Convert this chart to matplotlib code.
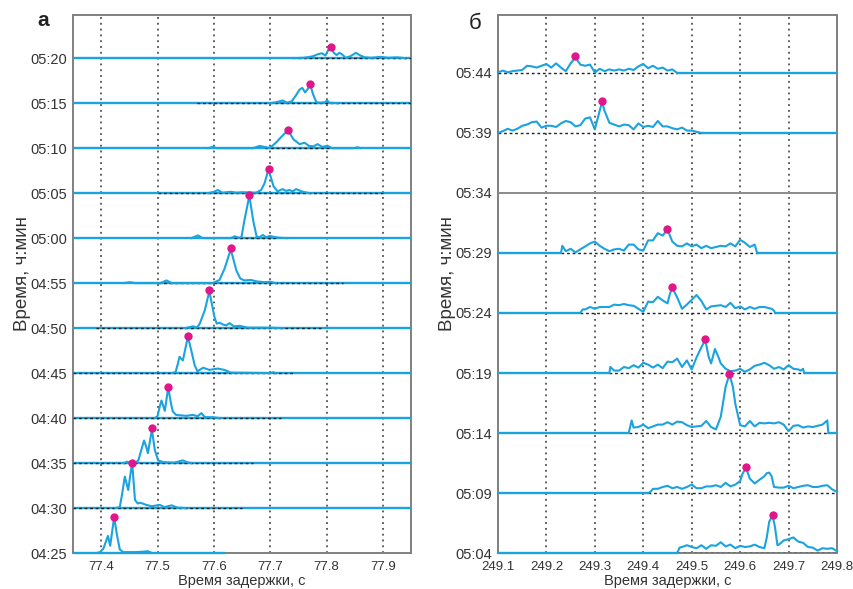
import matplotlib
matplotlib.use("Agg")
import matplotlib.pyplot as plt

plt.rcParams['font.family'] = ['Liberation Sans', 'DejaVu Sans']

# ------------------------------
# Panel a: delay 77.35-77.95 s, traces every 5 min (04:25 ... 05:20)
# ------------------------------

a_labels = ["04:25", "04:30", "04:35", "04:40", "04:45", "04:50",
            "04:55", "05:00", "05:05", "05:10", "05:15", "05:20"]
a_offsets = [0, 5, 10, 15, 20, 25, 30, 35, 40, 45, 50, 55]   # minutes after 04:25

a_0425_x = [77.392, 77.398, 77.404, 77.408, 77.412, 77.416, 77.423, 77.428, 77.433, 77.439, 77.46, 77.475, 77.483, 77.49]
a_0425_y = [0, 0.1, 0.5, 1.2, 1.9, 0.8, 4.0, 2.0, 0.4, 0.1, 0.1, 0.15, 0.2, 0]
a_0430_x = [77.425, 77.433, 77.437, 77.442, 77.448, 77.452, 77.455, 77.46, 77.465, 77.469, 77.48, 77.49, 77.504, 77.512, 77.525, 77.535, 77.55]
a_0430_y = [0, 0.1, 1.5, 3.5, 2.0, 3.8, 5.0, 0.9, 0.5, 0.6, 0.35, 0.2, 0.35, 0.1, 0.3, 0.05, 0]
a_0435_x = [77.44, 77.446, 77.452, 77.462, 77.466, 77.471, 77.476, 77.48, 77.483, 77.487, 77.49, 77.495, 77.501, 77.51, 77.53, 77.545, 77.552, 77.56]
a_0435_y = [0, 0.15, 0, 0.1, 0.3, 1.4, 2.5, 1.8, 1.1, 2.6, 3.75, 1.5, 0.3, 0.1, 0.05, 0.3, 0.1, 0]
a_0440_x = [77.495, 77.50, 77.504, 77.507, 77.513, 77.519, 77.524, 77.527, 77.533, 77.542, 77.551, 77.563, 77.571, 77.578, 77.584, 77.598, 77.61]
a_0440_y = [0, 0.2, 1.3, 1.95, 0.8, 3.4, 1.6, 0.75, 0.35, 0.3, 0.25, 0.35, 0.2, 0.55, 0.1, 0.1, 0]
a_0445_x = [77.525, 77.532, 77.536, 77.539, 77.545, 77.549, 77.554, 77.56, 77.566, 77.571, 77.581, 77.592, 77.607, 77.619, 77.63, 77.70, 77.705, 77.71]
a_0445_y = [0, 0.1, 1.0, 1.8, 1.4, 2.6, 4.05, 2.5, 0.85, 0.2, 0.6, 0.35, 0.5, 0.35, 0.05, 0, 0.1, 0]
a_0450_x = [77.55, 77.563, 77.57, 77.575, 77.584, 77.592, 77.601, 77.605, 77.61, 77.616, 77.622, 77.628, 77.635, 77.646, 77.66, 77.70, 77.72]
a_0450_y = [0, 0.2, 0.05, 0.5, 2.0, 4.1, 1.25, 0.5, 0.6, 0.4, 0.3, 0.55, 0.2, 0.25, 0.05, 0.05, 0]
a_0455_x = [77.44, 77.451, 77.46, 77.505, 77.516, 77.525, 77.598, 77.61, 77.619, 77.63, 77.64, 77.647, 77.654, 77.666, 77.675, 77.69, 77.70, 77.71]
a_0455_y = [0, 0.1, 0, 0, 0.3, 0, 0, 0.35, 1.6, 3.75, 1.4, 0.5, 0.3, 0.35, 0.2, 0.1, 0.15, 0]
a_0500_x = [77.56, 77.572, 77.58, 77.63, 77.637, 77.644, 77.649, 77.654, 77.663, 77.67, 77.676, 77.681, 77.687, 77.693, 77.699, 77.706, 77.715, 77.73]
a_0500_y = [0, 0.3, 0, 0, 0.2, 0.05, 0.1, 1.9, 4.7, 1.9, 0.15, 0.1, 0.35, 0.1, 0.25, 0.15, 0.05, 0]
a_0505_x = [77.59, 77.60, 77.607, 77.615, 77.63, 77.64, 77.65, 77.675, 77.684, 77.69, 77.697, 77.706, 77.713, 77.722, 77.728, 77.734, 77.74, 77.746, 77.758, 77.77]
a_0505_y = [0, 0.15, 0.35, 0.05, 0.15, 0.05, 0.1, 0.05, 0.35, 1.1, 2.65, 0.75, 0.2, 0.45, 0.25, 0.35, 0.2, 0.45, 0.15, 0]
a_0510_x = [77.59, 77.598, 77.605, 77.67, 77.681, 77.693, 77.699, 77.71, 77.722, 77.732, 77.741, 77.752, 77.761, 77.769, 77.777, 77.784, 77.792, 77.802, 77.81, 77.85, 77.855, 77.86]
a_0510_y = [0, 0.15, 0, 0, 0.25, 0.1, 0, 0.6, 1.4, 2.0, 1.0, 0.45, 0.6, 0.25, 0.2, 0.45, 0.15, 0.25, 0, 0, 0.1, 0]
a_0515_x = [77.70, 77.71, 77.722, 77.73, 77.738, 77.745, 77.752, 77.757, 77.762, 77.767, 77.771, 77.776, 77.782, 77.79, 77.797, 77.801, 77.805, 77.82]
a_0515_y = [0, 0.1, 0.3, 0.05, 0.2, 0.8, 1.5, 1.7, 1.2, 1.6, 2.1, 1.0, 0.1, 0.05, 0.1, 0.3, 0.05, 0]
a_0520_x = [77.74, 77.76, 77.775, 77.785, 77.792, 77.798, 77.803, 77.808, 77.813, 77.818, 77.823, 77.828, 77.834, 77.842, 77.852, 77.86, 77.868, 77.88, 77.895, 77.91, 77.925, 77.94]
a_0520_y = [0, 0.05, 0.2, 0.45, 0.55, 0.3, 0.9, 1.15, 0.6, 0.35, 0.6, 0.4, 0.05, 0.2, 0.6, 0.3, 0.1, 0.05, 0.15, 0.05, 0.1, 0]

a_peak_x = [77.423, 77.455, 77.49, 77.519, 77.554, 77.592, 77.63, 77.663, 77.697, 77.732, 77.771, 77.808]
a_peak_y = [4.05, 5.0, 3.85, 3.45, 4.15, 4.2, 3.85, 4.8, 2.7, 2.05, 2.15, 1.2]
a_dot_start = [77.35, 77.35, 77.35, 77.35, 77.35, 77.39, 77.50, 77.635, 77.50, 77.69, 77.57, 77.75]
a_dot_end = [77.35, 77.65, 77.67, 77.72, 77.74, 77.79, 77.83, 77.71, 77.90, 77.805, 77.95, 77.95]
a_line_end = [77.62, 77.95, 77.95, 77.95, 77.95, 77.95, 77.95, 77.95, 77.95, 77.95, 77.95, 77.95]
a_ticks = [77.4, 77.5, 77.6, 77.7, 77.8, 77.9]

# ------------------------------
# Panel b: delay 249.1-249.8 s, traces every 5 min (05:04 ... 05:44)
# ------------------------------

b_labels = ["05:04", "05:09", "05:14", "05:19", "05:24", "05:29", "05:34", "05:39", "05:44"]
b_offsets = [0, 5, 10, 15, 20, 25, 30, 35, 40]   # minutes after 05:04
b_empty = 30   # 05:34 has no record

b_0504_x = [249.47, 249.475, 249.48, 249.49, 249.50, 249.51, 249.52, 249.53, 249.54, 249.55, 249.56, 249.57, 249.58, 249.59, 249.60, 249.61, 249.62, 249.63, 249.64, 249.65,
            249.655, 249.66, 249.667, 249.672, 249.677, 249.68, 249.69, 249.70, 249.71, 249.72, 249.73, 249.74, 249.75, 249.76, 249.77, 249.78, 249.79, 249.80]
b_0504_y = [0, 0.45, 0.5, 0.65, 0.5, 0.4, 0.65, 0.35, 0.65, 0.6, 0.9, 0.55, 0.7, 0.4, 0.6, 0.5, 0.55, 0.7, 0.5, 0.4,
            1.3, 2.6, 3.15, 2.15, 0.65, 0.7, 1.05, 1.15, 1.3, 0.95, 0.85, 0.5, 0.45, 0.2, 0.4, 0.35, 0.4, 0.15]
b_0509_x = [249.41, 249.415, 249.42, 249.43, 249.44, 249.45, 249.46, 249.47, 249.48, 249.49, 249.50, 249.51, 249.52, 249.53, 249.54, 249.55, 249.56, 249.57, 249.58, 249.59, 249.60,
            249.605, 249.612, 249.62, 249.63, 249.64, 249.65, 249.655, 249.66, 249.665, 249.67, 249.68, 249.69, 249.70, 249.71, 249.72, 249.73, 249.74, 249.75, 249.76, 249.77, 249.78, 249.79, 249.80]
b_0509_y = [0, 0.1, 0.35, 0.35, 0.5, 0.6, 0.4, 0.5, 0.35, 0.5, 0.7, 0.4, 0.4, 0.55, 0.55, 0.65, 0.5, 0.85, 0.55, 0.7, 1.0,
            1.6, 2.1, 1.2, 0.8, 1.1, 1.4, 1.65, 1.7, 1.4, 0.5, 0.45, 0.45, 0.6, 0.4, 0.5, 0.6, 0.65, 0.5, 0.5, 0.6, 0.65, 0.3, 0.1]
b_0514_x = [249.37, 249.376, 249.38, 249.39, 249.40, 249.41, 249.42, 249.43, 249.44, 249.45, 249.46, 249.47, 249.48, 249.49, 249.50, 249.51, 249.52, 249.53, 249.54, 249.55, 249.56, 249.57,
            249.578, 249.585, 249.59, 249.60, 249.61, 249.62, 249.63, 249.64, 249.65, 249.66, 249.67, 249.68, 249.69, 249.70, 249.71, 249.72, 249.73, 249.74, 249.75, 249.76, 249.77, 249.78, 249.782]
b_0514_y = [0, 1.05, 0.45, 0.5, 0.7, 0.4, 0.55, 0.7, 0.7, 0.9, 0.7, 0.95, 0.9, 0.65, 0.5, 0.55, 0.6, 1.0, 0.5, 0.3, 1.35, 3.85,
            4.9, 3.85, 2.45, 0.65, 0.55, 1.0, 0.55, 0.85, 0.8, 0.85, 0.8, 0.9, 0.7, 0.15, 0.6, 0.65, 0.45, 0.55, 0.5, 0.6, 0.7, 1.05, 0]
b_0519_x = [249.33, 249.332, 249.34, 249.35, 249.36, 249.37, 249.38, 249.39, 249.40, 249.41, 249.42, 249.43, 249.44, 249.45, 249.46, 249.47, 249.48, 249.49, 249.50, 249.51, 249.52,
            249.528, 249.535, 249.54, 249.548, 249.555, 249.56, 249.57, 249.58, 249.59, 249.60, 249.61, 249.62, 249.63, 249.64, 249.65, 249.66, 249.67, 249.68, 249.69, 249.70, 249.71, 249.72, 249.725, 249.73, 249.732]
b_0519_y = [0, 0.5, 0.2, 0.2, 0.5, 0.4, 0.65, 0.45, 0.85, 0.7, 0.45, 0.7, 0.4, 0.95, 0.9, 1.2, 0.5, 1.05, 0.3, 1.3, 2.15,
            2.75, 1.35, 0.8, 2.0, 1.35, 0.8, 0.35, 0.15, 0.2, 0.35, 0.1, 0.3, 0.6, 0.7, 0.85, 0.65, 0.35, 0.5, 0.3, 0.65, 0.35, 0.3, 0.2, 0.35, 0]
b_0524_x = [249.27, 249.275, 249.28, 249.29, 249.30, 249.31, 249.32, 249.33, 249.34, 249.35, 249.36, 249.37, 249.38, 249.39, 249.40, 249.41, 249.42, 249.43, 249.44, 249.45,
            249.455, 249.46, 249.47, 249.48, 249.49, 249.50, 249.51, 249.52, 249.53, 249.54, 249.55, 249.56, 249.57, 249.58, 249.59, 249.60, 249.61, 249.62, 249.63, 249.64, 249.65, 249.66, 249.665, 249.67, 249.672]
b_0524_y = [0, 0.3, 0.3, 0.5, 0.35, 0.5, 0.5, 0.5, 0.7, 0.65, 0.75, 0.65, 0.6, 0.35, 0.1, 0.95, 0.9, 1.35, 1.05, 0.8,
            1.6, 2.1, 1.3, 0.35, 0.7, 1.1, 1.5, 1.0, 0.3, 0.55, 0.6, 0.65, 0.5, 0.85, 0.4, 0.55, 0.3, 0.5, 0.35, 0.5, 0.5, 0.4, 0.35, 0.2, 0]
b_0529_x = [249.23, 249.233, 249.24, 249.25, 249.26, 249.27, 249.28, 249.29, 249.30, 249.31, 249.32, 249.33, 249.34, 249.35, 249.36, 249.37, 249.38, 249.39, 249.40, 249.41, 249.42,
            249.43, 249.44, 249.45, 249.46, 249.47, 249.48, 249.49, 249.50, 249.51, 249.52, 249.53, 249.54, 249.55, 249.56, 249.57, 249.58, 249.59, 249.60, 249.61, 249.62, 249.63, 249.635]
b_0529_y = [0, 0.6, 0.15, 0.35, 0.05, 0.3, 0.55, 0.8, 0.95, 0.6, 0.35, 0.15, 0.3, 0.35, 0.2, 0.7, 0.7, 0.3, 0.2, 1.05, 1.05,
            1.65, 1.45, 1.95, 0.95, 0.6, 0.55, 0.8, 0.55, 0.7, 0.4, 0.6, 0.4, 0.5, 0.6, 0.55, 0.8, 0.55, 1.1, 0.85, 0.5, 0.7, 0]
b_0539_x = [249.10, 249.11, 249.12, 249.13, 249.14, 249.15, 249.16, 249.17, 249.18, 249.19, 249.20, 249.21, 249.22, 249.23, 249.24, 249.25, 249.26, 249.27, 249.28, 249.29, 249.30, 249.31,
            249.315, 249.32, 249.33, 249.34, 249.35, 249.36, 249.37, 249.38, 249.39, 249.40, 249.41, 249.42, 249.43, 249.44, 249.45, 249.46, 249.47, 249.48, 249.49, 249.50, 249.51, 249.52]
b_0539_y = [0, 0.15, 0.35, 0.2, 0.35, 0.6, 0.7, 0.9, 0.95, 0.45, 0.6, 0.6, 0.5, 0.8, 1.0, 0.9, 0.55, 0.65, 1.2, 1.3, 0.3, 1.85,
            2.6, 1.85, 0.85, 0.7, 0.55, 0.7, 0.65, 0.3, 0.8, 0.5, 0.6, 0.5, 1.0, 0.55, 0.55, 0.4, 0.3, 0.45, 0.2, 0.2, 0.1, 0]
b_0544_x = [249.10, 249.11, 249.12, 249.13, 249.14, 249.15, 249.16, 249.17, 249.18, 249.19, 249.20, 249.21, 249.22, 249.23, 249.24, 249.25, 249.26, 249.27, 249.28,
            249.29, 249.30, 249.31, 249.32, 249.33, 249.34, 249.35, 249.36, 249.37, 249.38, 249.39, 249.40, 249.41, 249.42, 249.43, 249.44, 249.45, 249.46, 249.47]
b_0544_y = [0.05, 0.2, 0.05, 0.15, 0.2, 0.25, 0.6, 0.55, 0.45, 0.6, 0.75, 0.45, 0.8, 0.45, 0.15, 0.8, 1.3, 0.7, 0.6,
            0.7, 0.05, 0.35, 0.15, 0.3, 0.2, 0.3, 0.2, 0.35, 0.25, 0.55, 0.75, 0.4, 0.6, 0.35, 0.45, 0.2, 0.3, 0.0]

b_trace_offsets = [0, 5, 10, 15, 20, 25, 35, 40]
b_peak_x = [249.667, 249.612, 249.578, 249.528, 249.46, 249.45, 249.315, 249.26]
b_peak_y = [3.2, 2.15, 4.9, 2.8, 2.2, 2.0, 2.7, 1.4]
b_ticks = [249.1, 249.2, 249.3, 249.4, 249.5, 249.6, 249.7, 249.8]

TRACE = "#1ba3df"
PEAK = "#e0168a"
TEXT = "#333333"


def style_axes(ax, xlim, ylim, xticks, ylabels, yticks):
    ax.set_xlim(*xlim)
    ax.set_ylim(*ylim)
    ax.set_xticks(xticks)
    ax.set_xticklabels([f"{t:g}" for t in xticks])
    ax.set_yticks(yticks)
    ax.set_yticklabels(ylabels)
    ax.tick_params(length=0, colors=TEXT)
    ax.tick_params(axis="y", labelsize=10.5, pad=4)
    ax.tick_params(axis="x", labelsize=9.5, pad=5.5)
    ax.grid(axis="x", color="#333333", linestyle=(0, (1.2, 2.6)), linewidth=1.1)
    ax.set_axisbelow(True)
    for s in ax.spines.values():
        s.set_color("#808080")
        s.set_linewidth(1.4)
    ax.set_xlabel("Время задержки, с", fontsize=10.5, color=TEXT, labelpad=1)
    ax.set_ylabel("Время, ч:мин", fontsize=13.5, color=TEXT)
    ax.yaxis.set_label_coords(-0.125, 0.52)


fig = plt.figure(figsize=(8.54, 5.89), dpi=100)

# ---- panel a ----
ax1 = fig.add_axes([0.0855, 0.0611, 0.3958, 0.9134])
style_axes(ax1, (77.35, 77.95), (0, 59.8), a_ticks, a_labels, a_offsets)

a_xs = [a_0425_x, a_0430_x, a_0435_x, a_0440_x, a_0445_x, a_0450_x,
        a_0455_x, a_0500_x, a_0505_x, a_0510_x, a_0515_x, a_0520_x]
a_ys = [a_0425_y, a_0430_y, a_0435_y, a_0440_y, a_0445_y, a_0450_y,
        a_0455_y, a_0500_y, a_0505_y, a_0510_y, a_0515_y, a_0520_y]

for i, off in enumerate(a_offsets):
    ax1.hlines(off, 77.35, a_line_end[i], color=TRACE, lw=1.7, zorder=3, clip_on=False)
    ax1.hlines(off, a_dot_start[i], a_dot_end[i], color="#222222", lw=1.0,
               linestyles=(0, (2, 2)), zorder=4)
    ax1.plot(a_xs[i], [off + v for v in a_ys[i]], color=TRACE, lw=1.5, zorder=5)
    ax1.plot(a_peak_x[i], off + a_peak_y[i], "o", color=PEAK, ms=5, zorder=6)

ax1.text(-0.088, 0.99, "а", transform=ax1.transAxes, fontsize=15, fontweight="bold",
         ha="center", va="center", color="#222222")

# ---- panel b ----
ax2 = fig.add_axes([0.5831, 0.0611, 0.397, 0.9134])
style_axes(ax2, (249.1, 249.8), (0, 44.83), b_ticks, b_labels, b_offsets)

b_xs = [b_0504_x, b_0509_x, b_0514_x, b_0519_x, b_0524_x, b_0529_x, b_0539_x, b_0544_x]
b_ys = [b_0504_y, b_0509_y, b_0514_y, b_0519_y, b_0524_y, b_0529_y, b_0539_y, b_0544_y]

ax2.axhline(b_empty, color="#8a8a8a", lw=1.4, zorder=3)
for i, off in enumerate(b_trace_offsets):
    xs = b_xs[i]
    if xs[0] > 249.1:
        ax2.hlines(off, 249.1, xs[0], color=TRACE, lw=1.7, zorder=3, clip_on=False)
    if xs[-1] < 249.8:
        ax2.hlines(off, xs[-1], 249.8, color=TRACE, lw=1.7, zorder=3, clip_on=False)
    ax2.hlines(off, xs[0], xs[-1], color="#222222", lw=1.0,
               linestyles=(0, (2, 2)), zorder=4)
    ax2.plot(xs, [off + v for v in b_ys[i]], color=TRACE, lw=1.5, zorder=5, clip_on=False)
    ax2.plot(b_peak_x[i], off + b_peak_y[i], "o", color=PEAK, ms=5, zorder=6)

ax2.text(-0.068, 0.985, "б", transform=ax2.transAxes, fontsize=16,
         ha="center", va="center", color="#222222")

fig.savefig("out.png", dpi=100)
